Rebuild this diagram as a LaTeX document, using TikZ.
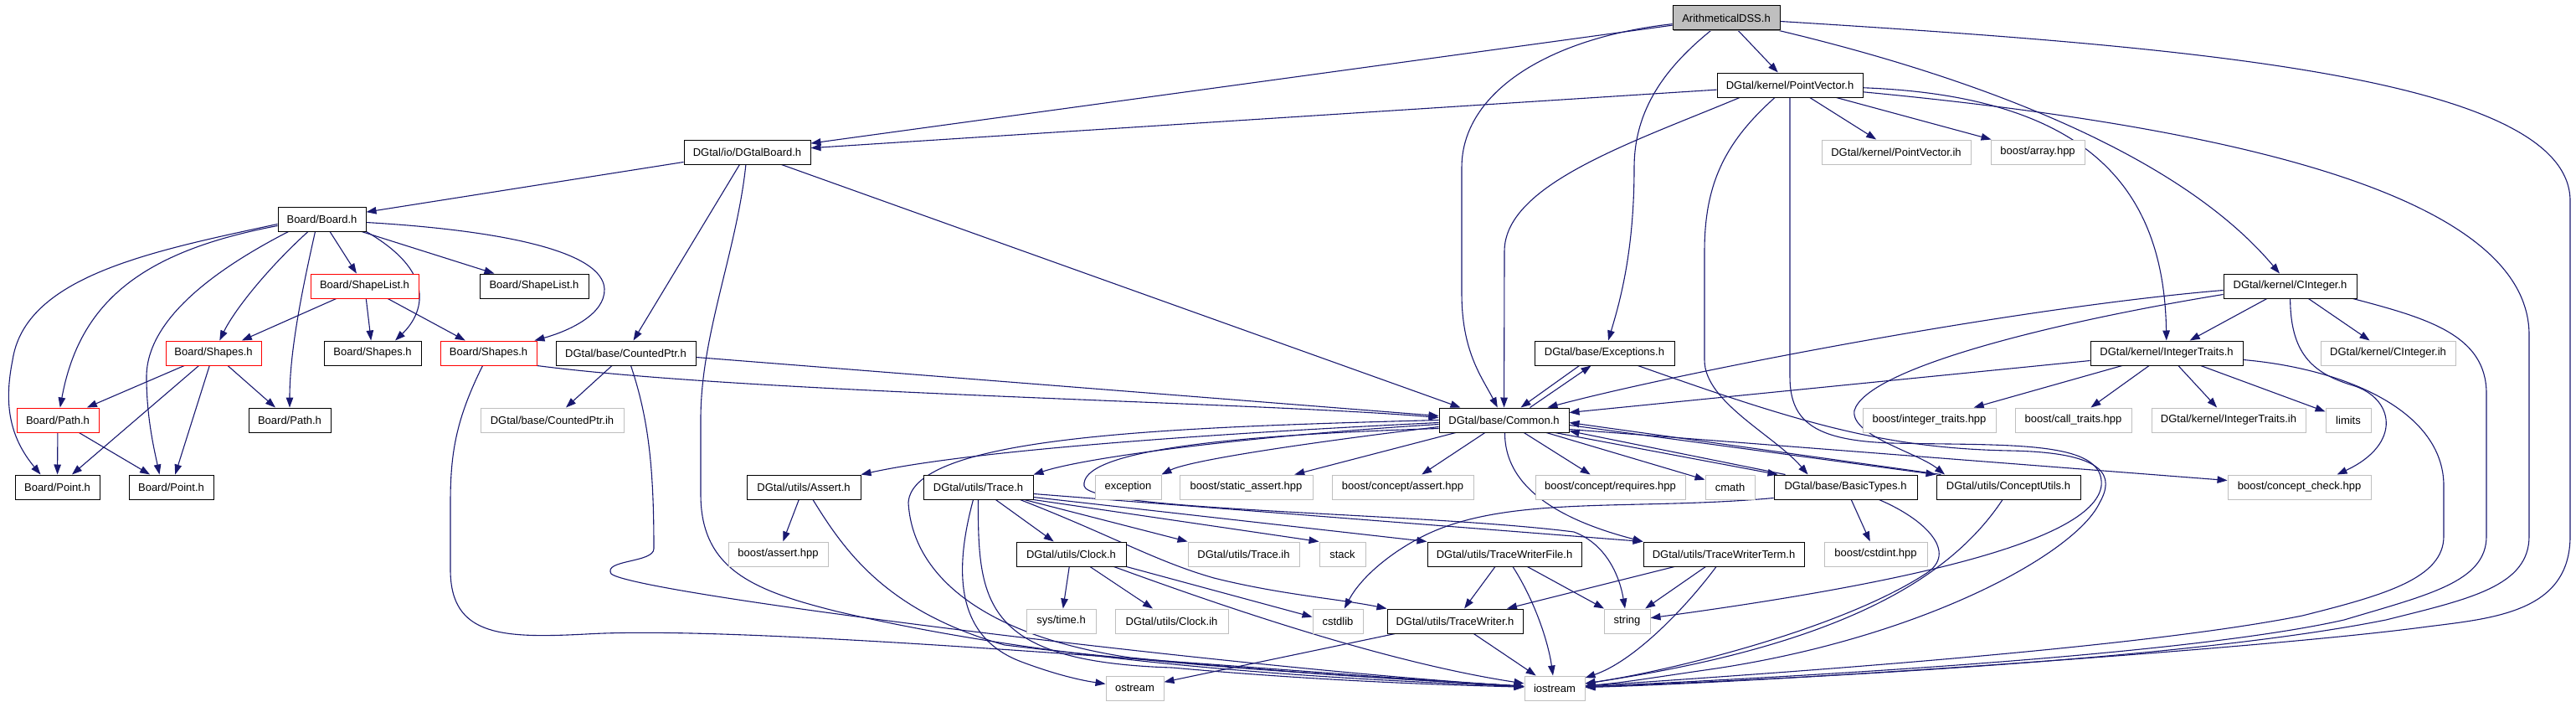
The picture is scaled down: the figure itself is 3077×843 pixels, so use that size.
\documentclass[tikz,border=0pt]{standalone}
\usepackage{fontspec}
\setmainfont{Liberation Sans}
\usepackage{tikz}
\usetikzlibrary{arrows.meta, shadows, backgrounds}
\usepackage{xcolor}
\definecolor{edgeblue}{HTML}{191970}
\definecolor{sysgray}{HTML}{BFBFBF}

\begin{document}
\begin{tikzpicture}[x=1pt, y=-1pt,
    filebox/.style = {rectangle, fill=white, line width=1pt, minimum height=29pt, inner sep=0pt, font=\fontsize{13}{15}\selectfont},
    hdr/.style = {filebox, draw=black, drop shadow={shadow xshift=0.9pt, shadow yshift=-0.9pt, fill=black!45, opacity=1}},
    redhdr/.style = {filebox, draw=red, drop shadow={shadow xshift=0.9pt, shadow yshift=-0.9pt, fill=black!30, opacity=1}},
    syshdr/.style = {filebox, draw=sysgray, drop shadow={shadow xshift=0.9pt, shadow yshift=-0.9pt, fill=black!12, opacity=1}},
    mainhdr/.style = {hdr, fill=sysgray},
    incl/.style = {draw=edgeblue, line width=1.1pt, -{Triangle[length=12pt, width=8.5pt]}}
]
\useasboundingbox (0,0) rectangle (3077,843);

% Row 0 and 1: the file itself and PointVector
\node (arith) [mainhdr, minimum width=128pt] at (2062, 21.5) {ArithmeticalDSS.h};
\node (pointvec) [hdr, minimum width=174pt] at (2138, 101.5) {DGtal/kernel/PointVector.h};

% Row 2
\node (dgtalboard) [hdr, minimum width=151pt] at (892.5, 181.5) {DGtal/io/DGtalBoard.h};
\node (pointvecih) [syshdr, minimum width=178pt] at (2265, 181.5) {DGtal/kernel/PointVector.ih};
\node (boostarray) [syshdr, minimum width=112pt] at (2434, 181.5) {boost/array.hpp};

% Row 3
\node (board) [hdr, minimum width=105pt] at (384.5, 261.5) {Board/Board.h};

% Row 4
\node (shapelistA) [redhdr, minimum width=129pt] at (435.5, 341.5) {Board/ShapeList.h};
\node (shapelistB) [hdr, minimum width=130pt] at (638, 341.5) {Board/ShapeList.h};
\node (cinteger) [hdr, minimum width=159pt] at (2735.5, 341.5) {DGtal/kernel/CInteger.h};

% Row 5
\node (shapesA) [redhdr, minimum width=114pt] at (255, 421.5) {Board/Shapes.h};
\node (shapesB) [hdr, minimum width=116pt] at (445, 421.5) {Board/Shapes.h};
\node (shapesC) [redhdr, minimum width=115pt] at (583.5, 421.5) {Board/Shapes.h};
\node (countedptr) [hdr, minimum width=167pt] at (747.5, 421.5) {DGtal/base/CountedPtr.h};
\node (exceptions) [hdr, minimum width=167pt] at (1916.5, 421.5) {DGtal/base/Exceptions.h};
\node (inttraits) [hdr, minimum width=182pt] at (2588, 421.5) {DGtal/kernel/IntegerTraits.h};
\node (cintegerih) [syshdr, minimum width=161pt] at (2852.5, 421.5) {DGtal/kernel/CInteger.ih};

% Row 6
\node (pathA) [redhdr, minimum width=98pt] at (69, 501.5) {Board/Path.h};
\node (pathB) [hdr, minimum width=98pt] at (346, 501.5) {Board/Path.h};
\node (countedptrih) [syshdr, minimum width=171pt] at (659.5, 501.5) {DGtal/base/CountedPtr.ih};
\node (common) [hdr, minimum width=155pt] at (1796.5, 501.5) {DGtal/base/Common.h};
\node (boostinttraits) [syshdr, minimum width=159pt] at (2304.5, 501.5) {boost/integer\_traits.hpp};
\node (calltraits) [syshdr, minimum width=139pt] at (2476.5, 501.5) {boost/call\_traits.hpp};
\node (inttraitsih) [syshdr, minimum width=184pt] at (2662, 501.5) {DGtal/kernel/IntegerTraits.ih};
\node (limits) [syshdr, minimum width=54pt] at (2805, 501.5) {limits};

% Row 7
\node (pointA) [hdr, minimum width=101pt] at (68.5, 581.5) {Board/Point.h};
\node (pointB) [hdr, minimum width=101pt] at (204.5, 581.5) {Board/Point.h};
\node (assert) [hdr, minimum width=136pt] at (960, 581.5) {DGtal/utils/Assert.h};
\node (trace) [hdr, minimum width=131pt] at (1168.5, 581.5) {DGtal/utils/Trace.h};
\node (exception) [syshdr, minimum width=79pt] at (1347.5, 581.5) {exception};
\node (staticassert) [syshdr, minimum width=159pt] at (1488.5, 581.5) {boost/static\_assert.hpp};
\node (conceptassert) [syshdr, minimum width=169pt] at (1675.5, 581.5) {boost/concept/assert.hpp};
\node (conceptreq) [syshdr, minimum width=179pt] at (1923.5, 581.5) {boost/concept/requires.hpp};
\node (cmath) [syshdr, minimum width=59pt] at (2066.5, 581.5) {cmath};
\node (basictypes) [hdr, minimum width=171pt] at (2204.5, 581.5) {DGtal/base/BasicTypes.h};
\node (conceptutils) [hdr, minimum width=172pt] at (2399, 581.5) {DGtal/utils/ConceptUtils.h};
\node (conceptcheck) [syshdr, minimum width=171pt] at (2746.5, 581.5) {boost/concept\_check.hpp};

% Row 8
\node (boostassert) [syshdr, minimum width=119pt] at (929.5, 661.5) {boost/assert.hpp};
\node (clock) [hdr, minimum width=131pt] at (1279.5, 661.5) {DGtal/utils/Clock.h};
\node (traceih) [syshdr, minimum width=133pt] at (1485.5, 661.5) {DGtal/utils/Trace.ih};
\node (stack) [syshdr, minimum width=55pt] at (1603.5, 661.5) {stack};
\node (twfile) [hdr, minimum width=184pt] at (1797, 661.5) {DGtal/utils/TraceWriterFile.h};
\node (twterm) [hdr, minimum width=192pt] at (2059, 661.5) {DGtal/utils/TraceWriterTerm.h};
\node (cstdint) [syshdr, minimum width=123pt] at (2240.5, 661.5) {boost/cstdint.hpp};

% Row 9
\node (systime) [syshdr, minimum width=83pt] at (1267.5, 741.5) {sys/time.h};
\node (clockih) [syshdr, minimum width=135pt] at (1399.5, 741.5) {DGtal/utils/Clock.ih};
\node (cstdlib) [syshdr, minimum width=60pt] at (1598, 741.5) {cstdlib};
\node (tracewriter) [hdr, minimum width=162pt] at (1738, 741.5) {DGtal/utils/TraceWriter.h};
\node (string) [syshdr, minimum width=55pt] at (1943.5, 741.5) {string};

% Row 10
\node (ostream) [syshdr, minimum width=69pt] at (1355.5, 821.5) {ostream};
\node (iostream) [syshdr, minimum width=72pt] at (1857, 821.5) {iostream};

\begin{scope}[on background layer]
% ArithmeticalDSS.h
\draw [incl] (arith) -- (pointvec);
\draw [incl] (arith) -- (dgtalboard);
\draw [incl] (arith) .. controls (1850,45) and (1746,110) .. (1746,200) -- (1746,350) .. controls (1746,420) and (1770,450) .. (common);
\draw [incl] (arith) .. controls (1990,80) and (1952,130) .. (1952,200) .. controls (1952,300) and (1935,360) .. (exceptions);
\draw [incl] (arith) .. controls (2350,90) and (2600,180) .. (cinteger);
\draw [incl] (arith) .. controls (2600,55) and (3070,90) .. (3070,240) -- (3070,640) .. controls (3070,730) and (2980,738) .. (2900,748) .. controls (2700,775) and (2100,815) .. (iostream);

% PointVector.h
\draw [incl] (pointvec) -- (dgtalboard);
\draw [incl] ([xshift=-60pt]pointvec.south) .. controls (1950,170) and (1797,220) .. (1797,300) -- (common);
\draw [incl] ([xshift=-18pt]pointvec.south) .. controls (2060,170) and (2036,220) .. (2036,300) -- (2036,430) .. controls (2036,480) and (2120,520) .. ([xshift=-45pt]basictypes.north);
\draw [incl] (pointvec) -- (2138,450) .. controls (2138,505) and (2170,526) .. (2260,529) .. controls (2400,532) and (2515,525) .. (2510,580) .. controls (2500,650) and (2250,700) .. (string);
\draw [incl] (pointvec) -- (pointvecih);
\draw [incl] (pointvec) -- (boostarray);
\draw [incl] (pointvec) .. controls (2500,115) and (2585,230) .. (inttraits);
\draw [incl] (pointvec) .. controls (2650,150) and (3021,230) .. (3021,400) -- (3021,640) .. controls (3021,700) and (2950,715) .. (2850,740) .. controls (2600,790) and (2100,812) .. (iostream);

% DGtalBoard.h
\draw [incl] (dgtalboard) -- (board);
\draw [incl] (dgtalboard) -- (countedptr);
\draw [incl] ([xshift=41pt]dgtalboard.south) -- ([xshift=-52pt]common.north);
\draw [incl] (dgtalboard) .. controls (880,300) and (837,400) .. (837,500) -- (837,590) .. controls (837,680) and (900,705) .. (1000,730) .. controls (1300,800) and (1650,812) .. (iostream);

% Board/Board.h
\draw [incl] ([yshift=-6pt]board.west) .. controls (180,300) and (30,330) .. (15,430) .. controls (5,480) and (10,520) .. ([xshift=-20pt]pointA.north);
\draw [incl] ([yshift=-8pt]board.west) .. controls (170,300) and (95,360) .. (pathA);
\draw [incl] ([xshift=-40pt]board.south) .. controls (260,320) and (175,380) .. (175,450) .. controls (175,500) and (185,540) .. ([xshift=-14pt]pointB.north);
\draw [incl] (board) .. controls (320,320) and (280,370) .. (shapesA);
\draw [incl] ([xshift=-8pt]board.south) .. controls (360,350) and (346,420) .. (pathB);
\draw [incl] (board) -- (shapelistA);
\draw [incl] (board) -- (shapelistB);
\draw [incl] (board.south east) .. controls (530,330) and (500,380) .. ([xshift=27pt]shapesB.north);
\draw [incl] ([yshift=-4pt]board.east) .. controls (600,275) and (720,300) .. (722,345) .. controls (723,375) and (680,395) .. ([xshift=55pt]shapesC.north);

% Board/ShapeList.h, Board/Shapes.h, Board/Path.h
\draw [incl] (shapelistA) -- (shapesA);
\draw [incl] (shapelistA) -- (shapesB);
\draw [incl] (shapelistA) -- (shapesC);
\draw [incl] (shapesA) -- (pathA);
\draw [incl] (shapesA) -- (pointA);
\draw [incl] (shapesA) -- (pointB);
\draw [incl] (shapesA) -- (pathB);
\draw [incl] (pathA) -- (pointA);
\draw [incl] (pathA) -- (pointB);
\draw [incl] (shapesC.south east) .. controls (900,470) and (1500,480) .. ([yshift=3pt]common.west);
\draw [incl] ([xshift=-7pt]shapesC.south) .. controls (545,500) and (538,540) .. (538,600) -- (538,680) .. controls (538,760) and (600,762) .. (700,757) .. controls (900,745) and (1500,800) .. (iostream);

% DGtal/base/CountedPtr.h
\draw [incl] (countedptr) -- (countedptrih);
\draw [incl] ([yshift=-5pt]countedptr.east) -- ([yshift=5pt]common.west);
\draw [incl] ([xshift=6pt]countedptr.south) .. controls (775,500) and (781,560) .. (781,655) .. controls (781,672) and (720,668) .. (730,685) .. controls (760,710) and (1500,800) .. (iostream);

% DGtal/base/Exceptions.h
\draw [incl] ([xshift=-30pt]exceptions.south) -- ([xshift=20pt]common.north);
\draw [incl] ([xshift=40pt]exceptions.south) .. controls (2150,505) and (2250,535) .. (2400,538) .. controls (2520,540) and (2525,570) .. (2508,600) .. controls (2480,660) and (2300,760) .. (2050,798) .. controls (1980,808) and (1940,815) .. (iostream);

% DGtal/kernel/CInteger.h
\draw [incl] (cinteger) -- (inttraits);
\draw [incl] (cinteger) -- (cintegerih);
\draw [incl] (cinteger) .. controls (2736,420) and (2760,445) .. (2810,460) .. controls (2860,475) and (2870,530) .. ([xshift=45pt]conceptcheck.north);
\draw [incl] ([xshift=-5pt]cinteger.south east) .. controls (2900,380) and (2970,400) .. (2970,470) -- (2970,640) .. controls (2970,695) and (2900,710) .. (2800,740) .. controls (2600,785) and (2100,810) .. (iostream);
\draw [incl] ([yshift=-5pt]cinteger.west) .. controls (2400,368) and (2000,446) .. ([xshift=52pt]common.north);
\draw [incl] ([yshift=-10pt]cinteger.west) .. controls (2450,385) and (2230,440) .. (2215,490) .. controls (2210,520) and (2290,540) .. ([xshift=-76pt]conceptutils.north);

% DGtal/kernel/IntegerTraits.h
\draw [incl] ([yshift=-9pt]inttraits.west) -- ([yshift=9pt]common.east);
\draw [incl] (inttraits) -- (boostinttraits);
\draw [incl] (inttraits) -- (calltraits);
\draw [incl] (inttraits) -- (inttraitsih);
\draw [incl] (inttraits) -- (limits);
\draw [incl] ([yshift=-8pt]inttraits.east) .. controls (2800,440) and (2919,490) .. (2919,580) -- (2919,640) .. controls (2919,690) and (2850,710) .. (2750,735) .. controls (2550,775) and (2100,805) .. (iostream);

% DGtal/base/Common.h
\draw [incl] ([xshift=31pt]common.north) -- ([xshift=-16pt]exceptions.south);
\draw [incl] ([yshift=-3pt]common.west) .. controls (1400,520) and (1150,540) .. (assert.north east);
\draw [incl] ([yshift=-5pt]common.west) .. controls (1500,520) and (1300,545) .. (trace.north east);
\draw [incl] ([yshift=-8pt]common.west) .. controls (1550,530) and (1420,550) .. (exception.north east);
\draw [incl] (common) -- (staticassert);
\draw [incl] (common) -- (conceptassert);
\draw [incl] (common) -- (conceptreq);
\draw [incl] (common) -- (cmath);
\draw [incl] ([xshift=-17pt]common.south east) -- ([xshift=5pt]basictypes.north west);
\draw [incl] ([xshift=14pt]basictypes.north west) -- ([yshift=2pt]common.south east);
\draw [incl] ([yshift=-6pt]common.east) -- (conceptutils.north west);
\draw [incl] ([xshift=6pt]conceptutils.north west) -- ([yshift=-3pt]common.east);
\draw [incl] ([yshift=-11pt]common.east) -- ([yshift=8pt]conceptcheck.west);
\draw [incl] ([xshift=1pt]common.south) .. controls (1797,590) and (1880,625) .. (twterm.north west);
\draw [incl] ([yshift=-10pt]common.west) .. controls (1450,520) and (1290,540) .. (1295,580) .. controls (1300,610) and (1700,612) .. (1880,635) .. controls (1920,650) and (1935,690) .. (string);
\draw [incl] (common.west) .. controls (1400,510) and (1090,520) .. (1085,600) .. controls (1090,690) and (1180,760) .. (1350,785) .. controls (1550,805) and (1750,815) .. (iostream);

% DGtal/utils/Assert.h
\draw [incl] (assert) -- (boostassert);
\draw [incl] ([xshift=11pt]assert.south) .. controls (1010,660) and (1060,730) .. (1200,770) .. controls (1450,800) and (1700,812) .. (iostream);

% DGtal/utils/Trace.h
\draw [incl] ([yshift=-8pt]trace.east) -- (twterm.north west);
\draw [incl] ([yshift=-12pt]trace.east) -- (twfile.north west);
\draw [incl] ([xshift=55pt]trace.south) -- (traceih.north west);
\draw [incl] (trace.south east) -- (stack.north west);
\draw [incl] ([xshift=50pt]trace.south) .. controls (1330,640) and (1380,670) .. (1450,690) .. controls (1530,710) and (1600,715) .. (tracewriter.north west);
\draw [incl] (trace) -- (clock);
\draw [incl] ([xshift=-6pt]trace.south) .. controls (1140,680) and (1140,760) .. (1220,790) .. controls (1260,805) and (1290,812) .. (ostream);
\draw [incl] (trace) .. controls (1168,720) and (1175,790) .. (1400,797) .. controls (1600,815) and (1750,818) .. (iostream);

% DGtal/utils/Clock.h
\draw [incl] (clock) -- (systime);
\draw [incl] (clock) -- (clockih);
\draw [incl] (clock.south east) -- ([yshift=5pt]cstdlib.west);
\draw [incl] ([xshift=-15pt]clock.south east) .. controls (1450,720) and (1650,790) .. (iostream);

% TraceWriter family
\draw [incl] (twfile) -- (tracewriter);
\draw [incl] ([xshift=10pt]twfile.south) .. controls (1835,720) and (1850,770) .. (iostream);
\draw [incl] (twfile) -- (string);
\draw [incl] ([xshift=-59pt]twterm.south) -- ([xshift=62pt]tracewriter.north);
\draw [incl] (twterm) -- (string);
\draw [incl] ([xshift=-9pt]twterm.south) .. controls (2010,730) and (1950,790) .. (iostream);
\draw [incl] (tracewriter) -- (ostream);
\draw [incl] (tracewriter) -- (iostream);

% DGtal/base/BasicTypes.h and DGtal/utils/ConceptUtils.h
\draw [incl] (basictypes) -- (cstdint);
\draw [incl] ([yshift=-13pt]basictypes.west) .. controls (1950,610) and (1800,590) .. (1700,640) .. controls (1660,660) and (1625,690) .. (cstdlib);
\draw [incl] ([xshift=40pt]basictypes.south) .. controls (2300,620) and (2340,660) .. (2300,685) .. controls (2200,750) and (2000,800) .. (iostream);
\draw [incl] ([xshift=-7pt]conceptutils.south) .. controls (2330,690) and (2200,770) .. (iostream);
\end{scope}

\end{tikzpicture}
\end{document}
